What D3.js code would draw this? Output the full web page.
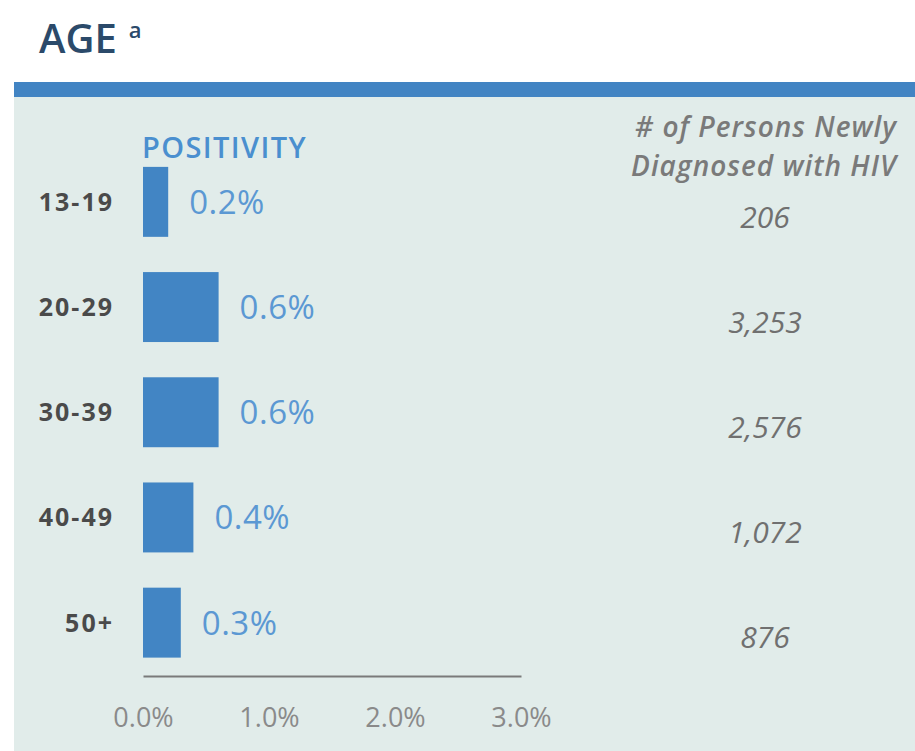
<!DOCTYPE html>
<html>
<head>
<meta charset="utf-8">
<script src="https://cdn.jsdelivr.net/npm/d3@7"></script>
<style>
  html, body { margin: 0; padding: 0; background: #ffffff; }
  svg { display: block; }
</style>
</head>
<body>
<svg id="chart" width="915" height="751"></svg>
<script>
// ---- data ----
const categories = ["13-19", "20-29", "30-39", "40-49", "50+"];
const positivity = [0.2, 0.6, 0.6, 0.4, 0.3];           // percent
const newlyDiagnosed = [206, 3253, 2576, 1072, 876];   // persons
const xTicks = [0, 1, 2, 3];                            // percent

// ---- layout ----
const W = 915, H = 751;
const svg = d3.select("#chart");

// panel
svg.append("rect").attr("x", 14).attr("y", 97).attr("width", W - 14).attr("height", H - 97)
  .attr("fill", "#e1ecea");
svg.append("rect").attr("x", 14).attr("y", 82).attr("width", W - 14).attr("height", 15)
  .attr("fill", "#4284c3");

// title
const title = svg.append("text").attr("x", 39).attr("y", 53)
  .attr("font-family", "'Open Sans', sans-serif").attr("font-size", 40).attr("font-weight", 600)
  .attr("fill", "#2b4a6a");
title.append("tspan").text("AGE");
title.append("tspan").attr("dx", 12).attr("dy", -15).attr("font-size", 22).text("a");

const x = d3.scaleLinear().domain([0, 3]).range([143, 521]);
const y = d3.scaleBand().domain(categories).range([149, 675.5]).paddingInner(0.335).paddingOuter(0.17);

const rows = categories.map((c, i) => ({ c, p: positivity[i], n: newlyDiagnosed[i] }));

// bars
svg.append("g").selectAll("rect").data(rows).join("rect")
  .attr("x", x(0)).attr("y", d => y(d.c))
  .attr("width", d => x(d.p) - x(0)).attr("height", y.bandwidth())
  .attr("fill", "#4285c4");

// value labels
svg.append("g").selectAll("text").data(rows).join("text")
  .attr("x", d => x(d.p) + 21).attr("y", d => y(d.c) + y.bandwidth() / 2)
  .attr("dy", "0.36em")
  .attr("font-family", "'Open Sans', sans-serif").attr("font-size", 33).attr("font-weight", 400)
  .attr("letter-spacing", 0.5)
  .attr("fill", "#5b98d3")
  .text(d => d3.format(".1f")(d.p) + "%");

// category labels
svg.append("g").selectAll("text").data(rows).join("text")
  .attr("x", 114).attr("y", d => y(d.c) + y.bandwidth() / 2)
  .attr("dy", "0.36em").attr("text-anchor", "end")
  .attr("font-family", "'Open Sans', sans-serif").attr("font-size", 25).attr("font-weight", 700)
  .attr("letter-spacing", 2)
  .attr("fill", "#4a4a4a")
  .text(d => d.c);

// POSITIVITY header
svg.append("text").attr("x", 142).attr("y", 158)
  .attr("font-family", "'Open Sans', sans-serif").attr("font-size", 29).attr("font-weight", 600)
  .attr("letter-spacing", 1.4)
  .attr("fill", "#4a8fcf").text("POSITIVITY");

// right column header
const hdr = svg.append("text").attr("text-anchor", "middle")
  .attr("font-family", "'Open Sans', sans-serif").attr("font-size", 28).attr("font-style", "italic")
  .attr("font-weight", 600).attr("letter-spacing", 1)
  .attr("fill", "#7a7a7a");
hdr.append("tspan").attr("x", 766).attr("y", 137).text("# of Persons Newly");
hdr.append("tspan").attr("x", 764).attr("y", 176).text("Diagnosed with HIV");

// counts
svg.append("g").selectAll("text").data(rows).join("text")
  .attr("x", 765).attr("y", d => y(d.c) + y.bandwidth() / 2 + 15)
  .attr("dy", "0.36em").attr("text-anchor", "middle")
  .attr("font-family", "'Open Sans', sans-serif").attr("font-size", 30).attr("font-style", "italic")
  .attr("fill", "#707070")
  .text(d => d3.format(",")(d.n));

// x axis
const axis = svg.append("g").attr("transform", "translate(0,676)")
  .call(d3.axisBottom(x).tickValues(xTicks).tickSize(0).tickPadding(32)
    .tickFormat(d => d3.format(".1f")(d) + "%"));
axis.select(".domain").attr("stroke", "#7a7a7a").attr("stroke-width", 2);
axis.selectAll("text").attr("font-family", "'Open Sans', sans-serif").attr("font-size", 27)
  .attr("fill", "#8a8a8a");
</script>
</body>
</html>
